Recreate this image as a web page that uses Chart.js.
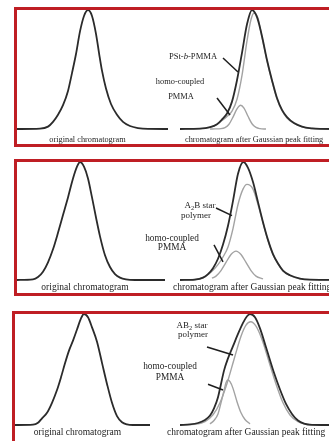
<!DOCTYPE html>
<html>
<head>
<meta charset="utf-8">
<script src="https://cdn.jsdelivr.net/npm/chart.js@4.4.1/dist/chart.umd.min.js"></script>
<style>
  html, body { margin: 0; padding: 0; background: #fff; width: 329px; height: 441px; overflow: hidden; }
  .panel { position: absolute; left: 0; width: 345px; }
  .panel canvas { position: absolute; left: 0; top: 0; }
  .frame { position: absolute; top: 0; width: 345px; height: 100%; border: 3px solid #bf1e24; box-sizing: border-box; pointer-events: none; }
</style>
</head>
<body>
<div class="panel" style="top:7px;height:140px"><canvas id="c1" width="345" height="140"></canvas><div class="frame" style="left:14px"></div></div>
<div class="panel" style="top:159px;height:137px"><canvas id="c2" width="345" height="137"></canvas><div class="frame" style="left:14px"></div></div>
<div class="panel" style="top:311px;height:140px"><canvas id="c3" width="345" height="140"></canvas><div class="frame" style="left:12px"></div></div>
<script>
/* ---------- data: [elution volume, normalised intensity] ---------- */
// panel 1 — PSt-b-PMMA
var p1Original = [[1.7,0],[4.0,0.003],[4.8,0.02],[5.3,0.06],[5.8,0.12],[6.3,0.2],[6.8,0.32],[7.2,0.47],[7.6,0.63],[8.0,0.82],[8.4,0.95],[8.8,1],[9.2,0.95],[9.6,0.8],[9.9,0.64],[10.2,0.49],[10.6,0.34],[11.1,0.21],[11.7,0.12],[12.3,0.06],[13.0,0.025],[13.8,0.008],[14.8,0.001],[16.8,0]];
var p1Fitted = [[18.0,0],[20.0,0.003],[21.0,0.015],[21.7,0.04],[22.2,0.08],[22.7,0.13],[23.2,0.23],[23.7,0.41],[24.2,0.64],[24.7,0.88],[25.2,1],[25.7,0.94],[26.2,0.78],[26.7,0.58],[27.2,0.41],[27.7,0.26],[28.2,0.16],[28.7,0.1],[29.4,0.05],[30.2,0.02],[31.2,0.005],[32.0,0.001],[34.0,0]];
var p1Block = [[18.0,0],[20.0,0.003],[21.0,0.014],[21.7,0.038],[22.2,0.072],[22.7,0.105],[23.2,0.15],[23.7,0.25],[24.2,0.45],[24.7,0.74],[25.1,0.92],[25.4,0.975],[25.8,0.93],[26.2,0.77],[26.7,0.57],[27.2,0.4],[27.7,0.252],[28.2,0.153],[28.7,0.093],[29.4,0.046],[30.2,0.018],[31.2,0.004],[32.0,0.001],[34.0,0]];
var p1Homo = [[21.0,0],[21.5,0.001],[22.1,0.003],[22.5,0.012],[22.9,0.04],[23.3,0.1],[23.7,0.17],[24.07,0.2],[24.4,0.176],[24.8,0.107],[25.2,0.044],[25.6,0.013],[26.0,0.003],[26.6,0]];

// panel 2 — A2B star polymer
var p2Original = [[1.7,0],[3.3,0.005],[3.8,0.025],[4.3,0.07],[4.8,0.15],[5.3,0.26],[5.8,0.4],[6.3,0.55],[6.8,0.7],[7.3,0.86],[7.7,0.96],[8.0,1],[8.4,0.96],[8.8,0.86],[9.2,0.7],[9.6,0.53],[10.0,0.37],[10.5,0.21],[11.0,0.11],[11.5,0.05],[12.0,0.02],[12.6,0.005],[13.5,0],[16.5,0]];
var p2Fitted = [[18.0,0],[19.5,0.004],[20.3,0.02],[20.8,0.05],[21.3,0.1],[21.8,0.18],[22.3,0.3],[22.8,0.46],[23.3,0.67],[23.8,0.9],[24.33,1],[24.8,0.95],[25.3,0.83],[25.8,0.66],[26.3,0.49],[26.8,0.34],[27.3,0.22],[27.8,0.14],[28.3,0.08],[29.0,0.04],[30.0,0.012],[31.0,0.003],[34.0,0]];
var p2Star = [[18.0,0],[19.5,0.004],[20.3,0.019],[20.8,0.045],[21.3,0.083],[21.8,0.13],[22.3,0.195],[22.8,0.28],[23.3,0.436],[23.8,0.64],[24.3,0.77],[24.7,0.81],[25.3,0.77],[25.8,0.64],[26.3,0.483],[26.8,0.333],[27.3,0.215],[27.8,0.136],[28.3,0.077],[29.0,0.038],[30.0,0.011],[31.0,0.003],[34.0,0]];
var p2Homo = [[21.2,0.015],[21.6,0.033],[22.1,0.08],[22.6,0.149],[23.1,0.216],[23.6,0.245],[24.1,0.216],[24.6,0.149],[25.1,0.08],[25.6,0.033],[26.3,0.01]];

// panel 3 — AB2 star polymer
var p3Original = [[1.5,0],[3.3,0.003],[3.8,0.02],[4.2,0.06],[4.7,0.11],[5.2,0.2],[5.7,0.315],[6.1,0.43],[6.5,0.556],[6.9,0.67],[7.3,0.76],[7.7,0.86],[8.1,0.96],[8.4,1],[8.8,0.97],[9.2,0.88],[9.7,0.75],[10.2,0.56],[10.7,0.37],[11.2,0.2],[11.7,0.08],[12.2,0.025],[12.7,0.005],[13.3,0],[15.0,0]];
var p3Fitted = [[18.0,0],[19.0,0.005],[19.8,0.018],[20.5,0.045],[21.0,0.085],[21.4,0.15],[21.8,0.25],[22.1,0.37],[22.4,0.49],[22.8,0.6],[23.3,0.71],[23.8,0.82],[24.3,0.92],[24.7,0.98],[25.0,1],[25.5,0.97],[26.0,0.87],[26.6,0.7],[27.4,0.47],[28.0,0.32],[28.6,0.19],[29.2,0.1],[29.8,0.04],[30.4,0.013],[31.2,0.002],[34.0,0]];
var p3Star = [[18.0,0],[19.5,0.006],[20.5,0.031],[21.3,0.092],[22.0,0.2],[22.7,0.374],[23.4,0.59],[24.1,0.8],[24.6,0.9],[25.07,0.93],[25.6,0.89],[26.2,0.77],[26.9,0.57],[27.6,0.37],[28.3,0.2],[29.0,0.09],[29.8,0.03],[30.5,0.01],[31.5,0.001],[34.0,0]];
var p3Homo = [[21.0,0.01],[21.4,0.04],[21.8,0.1],[22.1,0.2],[22.4,0.31],[22.6,0.38],[22.77,0.405],[23.0,0.39],[23.3,0.33],[23.7,0.21],[24.1,0.11],[24.5,0.05],[25.0,0.01]];

var BOTTOM_LEFT = 'original chromatogram';
var BOTTOM_RIGHT = 'chromatogram after Gaussian peak fitting';

/* ---------- helpers ---------- */
var BLACK = '#2b2b2b', GREY = '#a3a3a3', SERIF = "'Liberation Serif', 'Times New Roman', serif";

function pts(arr) { return arr.map(function (p) { return { x: p[0], y: p[1] }; }); }
function line(arr, color, w) {
  return { data: pts(arr), borderColor: color, borderWidth: w, pointRadius: 0, fill: false,
           cubicInterpolationMode: 'monotone', clip: false };
}

// small markup: <i>..</i> italic, <sub>..</sub> subscript
function parts(str) {
  var out = [], re = /<(i|sub)>(.*?)<\/\1>/g, last = 0, m;
  while ((m = re.exec(str))) {
    if (m.index > last) out.push({ t: str.slice(last, m.index) });
    out.push({ t: m[2], kind: m[1] });
    last = re.lastIndex;
  }
  if (last < str.length) out.push({ t: str.slice(last) });
  return out;
}
function drawRich(ctx, str, x, y, size, align) {
  var ps = parts(str), w = 0;
  function font(p) {
    var s = p.kind === 'sub' ? size * 0.7 : size;
    return (p.kind === 'i' ? 'italic ' : '') + s + 'px ' + SERIF;
  }
  ps.forEach(function (p) { ctx.font = font(p); w += ctx.measureText(p.t).width; });
  var cx = align === 'left' ? x : x - w / 2;
  ps.forEach(function (p) {
    ctx.font = font(p);
    ctx.fillText(p.t, cx, p.kind === 'sub' ? y + size * 0.3 : y);
    cx += ctx.measureText(p.t).width;
  });
}

var notesPlugin = {
  id: 'notes',
  afterDatasetsDraw: function (chart, args, opts) {
    var ctx = chart.ctx, sx = chart.scales.x, sy = chart.scales.y;
    ctx.save();
    ctx.fillStyle = '#1e1e1e';
    ctx.textBaseline = 'middle';
    (opts.labels || []).forEach(function (l) {
      drawRich(ctx, l.t, sx.getPixelForValue(l.x), sy.getPixelForValue(l.y), l.size, l.align);
    });
    ctx.strokeStyle = '#1e1e1e';
    ctx.lineWidth = 1.5;
    (opts.pointers || []).forEach(function (p) {
      ctx.beginPath();
      ctx.moveTo(sx.getPixelForValue(p[0]), sy.getPixelForValue(p[1]));
      ctx.lineTo(sx.getPixelForValue(p[2]), sy.getPixelForValue(p[3]));
      ctx.stroke();
    });
    ctx.restore();
  }
};

function makePanel(id, yMin, yMax, datasets, notes) {
  return new Chart(document.getElementById(id), {
    type: 'line',
    data: { datasets: datasets },
    options: {
      responsive: false, animation: false, events: [],
      layout: { padding: 0 },
      plugins: { legend: { display: false }, tooltip: { enabled: false }, notes: notes },
      scales: {
        x: { type: 'linear', min: 0, max: 34.5, display: false },
        y: { min: yMin, max: yMax, display: false }
      }
    },
    plugins: [notesPlugin]
  });
}

/* ---------- panels ---------- */
makePanel('c1', -0.1513, 1.0252,
  [line(p1Original, BLACK, 1.8), line(p1Fitted, BLACK, 1.8), line(p1Block, GREY, 1.4), line(p1Homo, GREY, 1.4)],
  {
    labels: [
      { t: 'PSt-<i>b</i>-PMMA', x: 19.3, y: 0.605, size: 8.6 },
      { t: 'homo-coupled', x: 18.0, y: 0.395, size: 8.4 },
      { t: 'PMMA', x: 18.1, y: 0.269, size: 8.4 },
      { t: BOTTOM_LEFT, x: 8.75, y: -0.088, size: 8.3 },
      { t: BOTTOM_RIGHT, x: 18.5, y: -0.088, size: 8.3, align: 'left' }
    ],
    pointers: [[22.3, 0.597, 23.8, 0.479], [21.7, 0.26, 23.0, 0.118]]
  });

makePanel('c2', -0.1356, 1.0254,
  [line(p2Original, BLACK, 1.8), line(p2Fitted, BLACK, 1.8), line(p2Star, GREY, 1.4), line(p2Homo, GREY, 1.4)],
  {
    labels: [
      { t: 'A<sub>2</sub>B star', x: 20.0, y: 0.63, size: 9 },
      { t: 'polymer', x: 19.6, y: 0.545, size: 9 },
      { t: 'homo-coupled', x: 17.2, y: 0.347, size: 9.3 },
      { t: 'PMMA', x: 17.2, y: 0.278, size: 9.3 },
      { t: BOTTOM_LEFT, x: 8.5, y: -0.064, size: 9.5 },
      { t: BOTTOM_RIGHT, x: 17.3, y: -0.064, size: 9.5, align: 'left' }
    ],
    pointers: [[21.6, 0.61, 23.2, 0.545], [21.4, 0.297, 22.3, 0.153]]
  });

makePanel('c3', -0.2342, 1.027,
  [line(p3Original, BLACK, 1.8), line(p3Fitted, BLACK, 1.8), line(p3Star, GREY, 1.4), line(p3Homo, GREY, 1.4)],
  {
    labels: [
      { t: 'AB<sub>2</sub> star', x: 19.2, y: 0.895, size: 9 },
      { t: 'polymer', x: 19.3, y: 0.818, size: 9 },
      { t: 'homo-coupled', x: 17.0, y: 0.523, size: 9.3 },
      { t: 'PMMA', x: 17.0, y: 0.423, size: 9.3 },
      { t: BOTTOM_LEFT, x: 7.75, y: -0.072, size: 9.5 },
      { t: BOTTOM_RIGHT, x: 16.7, y: -0.072, size: 9.5, align: 'left' }
    ],
    pointers: [[20.7, 0.703, 23.3, 0.631], [20.8, 0.367, 22.3, 0.315]]
  });
</script>
</body>
</html>
